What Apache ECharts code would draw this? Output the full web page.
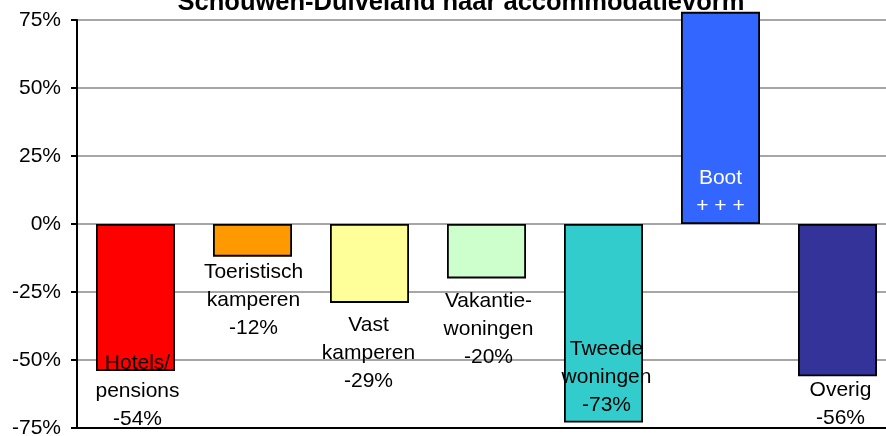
<!DOCTYPE html>
<html>
<head>
<meta charset="utf-8">
<script src="https://cdn.jsdelivr.net/npm/echarts@6/dist/echarts.min.js"></script>
<style>
html, body { margin: 0; padding: 0; background: #fff; }
#chart { width: 886px; height: 436px; }
</style>
</head>
<body>
<div id="chart"></div>
<script>
var myChart = echarts.init(document.getElementById('chart'));

// accommodatievormen
var categories = ['Hotels/\npensions', 'Toeristisch\nkamperen', 'Vast\nkamperen', 'Vakantie-\nwoningen', 'Tweede\nwoningen', 'Boot', 'Overig'];
var values = [-54, -12, -29, -20, -73, 78, -56];
var valueLabels = ['-54%', '-12%', '-29%', '-20%', '-73%', '+ + +', '-56%'];
var colors = ['#ff0000', '#ff9900', '#ffff99', '#ccffcc', '#33cccc', '#3366ff', '#333399'];
var yTicks = [-75, -50, -25, 0, 25, 50, 75];

// label verschuiving per balk (zoals in het origineel met de hand geplaatst)
var labelOffsets = [[2, -22], [1, 2], [-1, 8], [2, 9], [3, -87], [0, 0], [3, 0]];

var data = values.map(function (v, i) {
    var item = {
        value: v,
        itemStyle: { color: colors[i] },
        label: {
            show: true,
            position: 'bottom',
            distance: 0,
            offset: labelOffsets[i],
            formatter: categories[i] + '\n' + valueLabels[i]
        }
    };
    if (v > 0) {
        item.label.position = 'insideBottom';
        item.label.distance = 4;
        item.label.color = '#fff';
    }
    return item;
});

var option = {
    animation: false,
    title: {
        text: 'Schouwen-Duiveland naar accommodatievorm',
        left: 456,
        top: -15,
        textAlign: 'center',
        textStyle: {
            fontFamily: 'Liberation Sans',
            fontSize: 25.5,
            fontWeight: 'bold',
            color: '#000'
        }
    },
    grid: {
        left: 77,
        top: 20,
        width: 819,
        height: 408,
        outerBoundsMode: 'none',
        containLabel: false,
        show: true,
        borderColor: '#000',
        borderWidth: 2
    },
    xAxis: {
        type: 'category',
        data: categories,
        axisLabel: { show: false },
        axisTick: { show: false },
        axisLine: { onZero: false, lineStyle: { color: '#000', width: 2 } }
    },
    yAxis: {
        type: 'value',
        min: yTicks[0],
        max: yTicks[yTicks.length - 1],
        interval: 25,
        axisLine: { show: true, lineStyle: { color: '#000', width: 2 } },
        axisTick: { show: true, length: 6, lineStyle: { color: '#000', width: 2 } },
        axisLabel: {
            margin: 16,
            color: '#000',
            fontFamily: 'Liberation Sans',
            fontSize: 21,
            formatter: '{value}%'
        },
        splitLine: { lineStyle: { color: '#a6a6a6', width: 2 } }
    },
    series: [{
        type: 'bar',
        data: data,
        barWidth: 79,
        clip: false,
        itemStyle: { borderColor: '#000', borderWidth: 1.8 },
        label: {
            color: '#000',
            fontFamily: 'Liberation Sans',
            fontSize: 21,
            lineHeight: 28,
            align: 'center'
        }
    }]
};

myChart.setOption(option);
</script>
</body>
</html>
